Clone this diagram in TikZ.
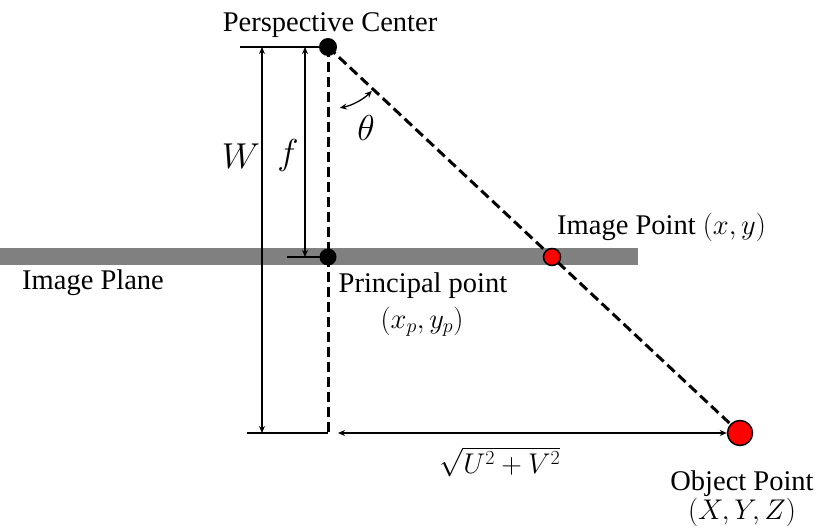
\RequirePackage{fix-cm}
\documentclass[tikz,border=0pt]{standalone}
\usepackage{fontspec}
\setmainfont{Liberation Serif}
\usetikzlibrary{arrows.meta,calc}
\definecolor{planegray}{RGB}{128,128,128}
\tikzset{
  lbl/.style={font=\fontsize{28.5}{31}\selectfont, inner sep=0pt},
  big/.style={font=\fontsize{36}{38}\selectfont, inner sep=0pt},
  dot/.style={circle, fill=black, minimum size=18pt, inner sep=0pt},
  reddot/.style={circle, fill=red, draw=black, line width=1.5pt, inner sep=0pt},
  thickline/.style={line width=2.6pt},
  dashline/.style={line width=3pt, dash pattern=on 10pt off 5pt},
  dimarr/.style={line width=1.3pt, {Stealth[length=7pt,width=6pt]}-{Stealth[length=7pt,width=6pt]}},
}
\begin{document}
\begin{tikzpicture}[x=1pt,y=-1pt]
\useasboundingbox (0,0) rectangle (816,529);
% image plane
\fill[planegray] (0,248) rectangle (638,265);
% coordinates
\coordinate (topL) at (240,47);
\coordinate (wtop) at (262,47);
\coordinate (wbot) at (262,433);
\coordinate (ftop) at (305,47);
\coordinate (fbot) at (305,257);
\coordinate (fL) at (287,257);
\coordinate (botL) at (247,433);
\coordinate (vbot) at (328,433);
\coordinate (harrL) at (338,433);
\coordinate (pcc) at (328,47);
\coordinate (ppc) at (328,257);
\coordinate (opc) at (740,433);
% solid reference lines
\draw[thickline] (topL) -- (pcc);
\draw[thickline] (fL) -- (ppc);
\draw[thickline] (botL) -- (vbot);
% dimension arrows
\draw[dimarr] (wtop) -- (wbot);
\draw[dimarr] (ftop) -- (fbot);
% dashed lines
\draw[dashline] (pcc) -- (vbot);
\draw[dashline] (pcc) -- (opc);
% points
\node[dot] (pc) at (pcc) {};
\node[dot, minimum size=17pt] (pp) at (ppc) {};
\node[reddot, minimum size=17pt] (ip) at (552,257) {};
\node[reddot, minimum size=25pt] (op) at (opc) {};
% horizontal distance arrow
\draw[dimarr] (harrL) -- (op.west);
% theta arc
\draw[line width=1.3pt, {Stealth[length=7pt,width=6pt]}-{Stealth[length=7pt,width=6pt]}]
  ($(pcc)+(79:62)$) arc[start angle=79, end angle=45, radius=62];
% labels
\node[lbl, anchor=base] (tpc) at (330,32) {Perspective Center};
\node[big] (tw) at (241,156) {$W$};
\node[big] (tf) at (288,156) {$f$};
\node[big] (tth) at (366,128) {$\theta$};
\node[lbl, anchor=base west] (tplane) at (22,289) {Image Plane};
\node[lbl, anchor=base] (tpp) at (423,292) {Principal point};
\node[lbl] (tppc) at (422,322) {$(x_p,y_p)$};
\node[lbl, anchor=base west] (tip) at (557,235) {Image Point $(x,y)$};
\node[lbl] (tsq) at (500,462) {$\sqrt{U^2+V^2}$};
\node[lbl, anchor=base] (top) at (742,490) {Object Point};
\node[lbl] (topc) at (742,512) {$(X,Y,Z)$};
\end{tikzpicture}
\end{document}
